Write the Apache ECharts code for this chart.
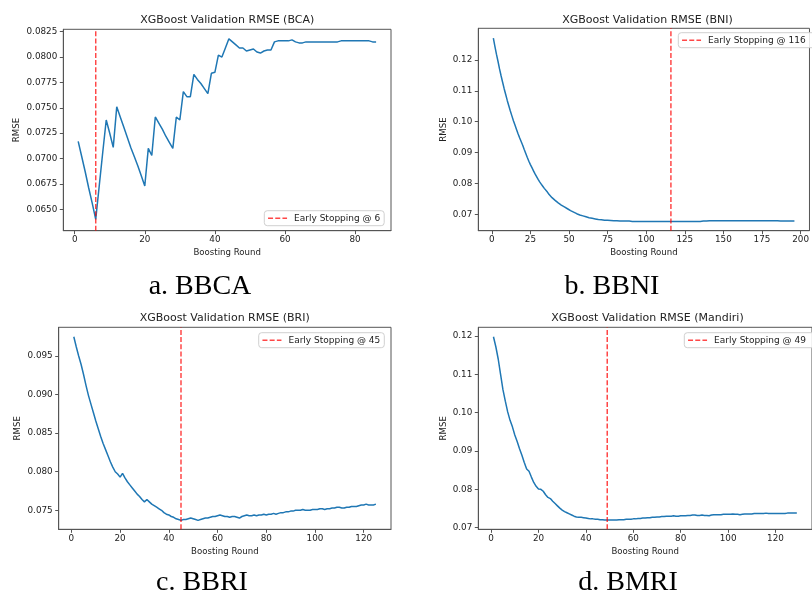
<!DOCTYPE html>
<html><head><meta charset="utf-8">
<script src="https://cdn.jsdelivr.net/npm/echarts@6.0.0/dist/echarts.min.js"></script>
<style>html,body{margin:0;padding:0;background:#fff}#c{width:812px;height:597px}</style>
</head><body><div id="c"></div>
<script>
// ---------------- DATA ----------------
const panelTitles = ['XGBoost Validation RMSE (BCA)', 'XGBoost Validation RMSE (BNI)', 'XGBoost Validation RMSE (BRI)', 'XGBoost Validation RMSE (Mandiri)'];
const captions = ['a. BBCA', 'b. BBNI', 'c. BBRI', 'd. BMRI'];
const stopRounds = [6, 116, 45, 49];
const xAxisTitle = 'Boosting Round';
const yAxisTitle = 'RMSE';

const bcaRmse = [
 0.0717,0.0702,0.0687,0.0671,0.0656,0.0640,0.0673,0.0706,0.0738,0.0725,
 0.0711,0.0751,0.0741,0.0731,0.0721,0.0711,0.0702,0.0693,0.0683,0.0673,
 0.0710,0.0703,0.0741,0.0735,0.0729,0.0722,0.0716,0.0710,0.0741,0.0738,
 0.0766,0.0761,0.0761,0.0783,0.0778,0.0774,0.0769,0.0764,0.0784,0.0785,
 0.0802,0.0800,0.0809,0.0818,0.0815,0.0812,0.0809,0.0809,0.0806,0.0807,
 0.0808,0.0805,0.0804,0.0806,0.0807,0.0807,0.0815,0.0816,0.0816,0.0816,
 0.0816,0.0817,0.0815,0.0814,0.0814,0.0815,0.0815,0.0815,0.0815,0.0815,
 0.0815,0.0815,0.0815,0.0815,0.0815,0.0816,0.0816,0.0816,0.0816,0.0816,
 0.0816,0.0816,0.0816,0.0816,0.0815,0.0815];

const bniRmse = [
 0.1271,0.1244,0.1219,0.1196,0.1171,0.1149,0.1128,0.1107,0.1088,0.1069,
 0.1052,0.1035,0.1019,0.1003,0.0989,0.0975,0.0961,0.0948,0.0936,0.0924,
 0.0910,0.0897,0.0884,0.0872,0.0861,0.0851,0.0841,0.0831,0.0822,0.0813,
 0.0805,0.0798,0.0791,0.0784,0.0778,0.0772,0.0765,0.0759,0.0754,0.0750,
 0.0745,0.0741,0.0737,0.0734,0.0730,0.0727,0.0724,0.0721,0.0718,0.0715,
 0.0712,0.0710,0.0707,0.0705,0.0702,0.0700,0.0698,0.0696,0.0695,0.0693,
 0.0692,0.0690,0.0689,0.0688,0.0687,0.0686,0.0685,0.0684,0.0683,0.0683,
 0.0682,0.0681,0.0681,0.0680,0.0681,0.0680,0.0680,0.0680,0.0679,0.0679,
 0.0679,0.0679,0.0678,0.0678,0.0678,0.0678,0.0678,0.0678,0.0678,0.0677,
 0.0677,0.0677,0.0677,0.0677,0.0677,0.0677,0.0677,0.0677,0.0677,0.0677,
 0.0677,0.0677,0.0677,0.0677,0.0677,0.0677,0.0677,0.0677,0.0677,0.0677,
 0.0677,0.0677,0.0677,0.0677,0.0677,0.0677,0.0677,0.0677,0.0677,0.0677,
 0.0677,0.0677,0.0677,0.0677,0.0677,0.0677,0.0677,0.0677,0.0677,0.0677,
 0.0677,0.0677,0.0677,0.0677,0.0677,0.0678,0.0678,0.0678,0.0678,0.0679,
 0.0679,0.0679,0.0679,0.0679,0.0679,0.0679,0.0679,0.0679,0.0679,0.0679,
 0.0679,0.0679,0.0679,0.0679,0.0679,0.0679,0.0679,0.0679,0.0679,0.0679,
 0.0679,0.0679,0.0679,0.0679,0.0679,0.0679,0.0679,0.0679,0.0679,0.0679,
 0.0679,0.0679,0.0679,0.0679,0.0679,0.0679,0.0679,0.0679,0.0679,0.0679,
 0.0679,0.0679,0.0679,0.0679,0.0679,0.0679,0.0678,0.0678,0.0678,0.0678,
 0.0678,0.0678,0.0678,0.0678,0.0678,0.0678];

const briRmse = [
 0.0975,0.0962,0.0950,0.0939,0.0926,0.0912,0.0899,0.0888,0.0877,0.0866,
 0.0856,0.0846,0.0837,0.0829,0.0821,0.0813,0.0806,0.0800,0.0797,0.0793,
 0.0798,0.0792,0.0787,0.0783,0.0779,0.0775,0.0771,0.0768,0.0764,0.0761,
 0.0764,0.0761,0.0758,0.0756,0.0754,0.0752,0.0750,0.0747,0.0745,0.0744,
 0.0742,0.0741,0.0739,0.0738,0.0737,0.0738,0.0738,0.0739,0.0740,0.0739,
 0.0738,0.0737,0.0738,0.0739,0.0740,0.0740,0.0741,0.0742,0.0742,0.0743,
 0.0744,0.0743,0.0742,0.0742,0.0741,0.0742,0.0742,0.0741,0.0740,0.0742,
 0.0743,0.0744,0.0743,0.0743,0.0744,0.0743,0.0744,0.0744,0.0745,0.0744,
 0.0745,0.0745,0.0746,0.0745,0.0746,0.0747,0.0747,0.0748,0.0748,0.0749,
 0.0749,0.0750,0.0750,0.0750,0.0751,0.0750,0.0750,0.0750,0.0751,0.0751,
 0.0751,0.0752,0.0752,0.0751,0.0752,0.0752,0.0753,0.0753,0.0754,0.0754,
 0.0753,0.0753,0.0754,0.0754,0.0755,0.0755,0.0755,0.0756,0.0757,0.0757,
 0.0758,0.0757,0.0757,0.0757,0.0758];

const mandiriRmse = [
 0.1198,0.1172,0.1140,0.1100,0.1060,0.1030,0.1002,0.0980,0.0963,0.0942,
 0.0925,0.0906,0.0889,0.0870,0.0853,0.0847,0.0832,0.0818,0.0808,0.0801,
 0.0800,0.0795,0.0786,0.0779,0.0776,0.0769,0.0763,0.0757,0.0751,0.0746,
 0.0742,0.0739,0.0736,0.0733,0.0730,0.0728,0.0727,0.0727,0.0726,0.0725,
 0.0724,0.0723,0.0723,0.0722,0.0722,0.0721,0.0721,0.0720,0.0720,0.0720,
 0.0720,0.0720,0.0720,0.0721,0.0721,0.0721,0.0722,0.0722,0.0722,0.0723,
 0.0723,0.0724,0.0724,0.0725,0.0725,0.0726,0.0726,0.0727,0.0727,0.0728,
 0.0728,0.0729,0.0729,0.0730,0.0730,0.0730,0.0731,0.0730,0.0730,0.0731,
 0.0731,0.0731,0.0732,0.0732,0.0733,0.0733,0.0732,0.0732,0.0733,0.0732,
 0.0732,0.0731,0.0733,0.0734,0.0734,0.0734,0.0734,0.0735,0.0735,0.0735,
 0.0735,0.0736,0.0735,0.0735,0.0734,0.0735,0.0736,0.0736,0.0736,0.0736,
 0.0737,0.0737,0.0737,0.0737,0.0737,0.0738,0.0737,0.0737,0.0737,0.0737,
 0.0737,0.0737,0.0737,0.0737,0.0738,0.0738,0.0738,0.0738,0.0738];

const xTicksA = [0, 20, 40, 60, 80];
const xTicksB = [0, 25, 50, 75, 100, 125, 150, 175, 200];
const xTicksC = [0, 20, 40, 60, 80, 100, 120];
const xTicksD = [0, 20, 40, 60, 80, 100, 120];
const yTicksA = ['0.0650', '0.0675', '0.0700', '0.0725', '0.0750', '0.0775', '0.0800', '0.0825'];
const yTicksB = ['0.07', '0.08', '0.09', '0.10', '0.11', '0.12'];
const yTicksC = ['0.075', '0.080', '0.085', '0.090', '0.095'];
const yTicksD = ['0.07', '0.08', '0.09', '0.10', '0.11', '0.12'];

// ---------------- LAYOUT ----------------
const FONT = 'DejaVu Sans';
const INK = '#222';
const SPINE = '#555';
const layout = [
  {grid: {left: 63.3, top: 29.3, width: 327.7, height: 201.4}, x: [-3.25, 90.25], y: [0.06289, 0.08274],
   title: [227.2, 20], caption: [200, 287], legend: {left: 264.3, top: 210.7, padR: 4}, yGap: 42, xGap: 18},
  {grid: {left: 478.3, top: 28.3, width: 335.2, height: 202.4}, x: [-8.75, 205.75], y: [0.06469, 0.13027],
   title: [647.5, 20], caption: [612, 287], legend: {left: 678.3, top: 32.7, padR: 10}, yGap: 30.5, xGap: 18},
  {grid: {left: 58.7, top: 327.3, width: 332.3, height: 202}, x: [-5.2, 131.2], y: [0.07254, 0.09872],
   title: [224.7, 318.3], caption: [202, 583], legend: {left: 258.7, top: 332.7, padR: 4}, yGap: 36, xGap: 18},
  {grid: {left: 478.3, top: 327.3, width: 336, height: 202}, x: [-5.4, 135.4], y: [0.06958, 0.12227],
   title: [647.5, 318.3], caption: [628, 583], legend: {left: 684.3, top: 332.7, padR: 10}, yGap: 30.5, xGap: 18}
];

const seriesValues = [bcaRmse, bniRmse, briRmse, mandiriRmse];
const xTicks = [xTicksA, xTicksB, xTicksC, xTicksD];
const yTicks = [yTicksA, yTicksB, yTicksC, yTicksD];

const option = {animation: false, backgroundColor: '#fff', grid: [], xAxis: [], yAxis: [], series: [], legend: [], graphic: []};

layout.forEach((L, i) => {
  option.grid.push(Object.assign({show: true, borderColor: SPINE, borderWidth: 1, containLabel: false}, L.grid));
  option.xAxis.push({
    type: 'value', gridIndex: i, min: L.x[0], max: L.x[1],
    axisLine: {show: true, onZero: false, lineStyle: {color: SPINE, width: 1}},
    axisTick: {show: true, customValues: xTicks[i], length: 3.5, lineStyle: {color: SPINE, width: 1}},
    axisLabel: {customValues: xTicks[i], fontSize: 8.8, fontFamily: FONT, color: INK, margin: 5},
    splitLine: {show: false},
    name: xAxisTitle, nameLocation: 'middle', nameGap: L.xGap,
    nameTextStyle: {fontSize: 8.6, fontFamily: FONT, color: INK}
  });
  const dec = yTicks[i][0].split('.')[1].length;
  option.yAxis.push({
    type: 'value', gridIndex: i, min: L.y[0], max: L.y[1],
    axisLine: {show: true, onZero: false, lineStyle: {color: SPINE, width: 1}},
    axisTick: {show: true, customValues: yTicks[i].map(Number), length: 3.5, lineStyle: {color: SPINE, width: 1}},
    axisLabel: {customValues: yTicks[i].map(Number), fontSize: 8.8, fontFamily: FONT, color: INK, margin: 6,
      formatter: v => v.toFixed(dec)},
    splitLine: {show: false},
    name: yAxisTitle, nameLocation: 'middle', nameGap: L.yGap,
    nameTextStyle: {fontSize: 8.6, fontFamily: FONT, color: INK}
  });
  option.series.push({
    type: 'line', name: 'rmse' + i, xAxisIndex: i, yAxisIndex: i, showSymbol: false, symbol: 'none',
    clip: true, data: seriesValues[i].map((v, k) => [k + 1, v]),
    lineStyle: {color: '#1f77b4', width: 1.5}, itemStyle: {color: '#1f77b4'}, z: 2
  });
  const stopName = 'Early Stopping @ ' + stopRounds[i];
  option.series.push({
    type: 'line', name: stopName, xAxisIndex: i, yAxisIndex: i, showSymbol: false, symbol: 'none',
    clip: true, data: [[stopRounds[i], L.y[0]], [stopRounds[i], L.y[1]]],
    lineStyle: {color: 'rgba(255,0,0,0.72)', width: 1.5, type: [5, 2.2]}, itemStyle: {color: 'rgba(255,0,0,0.72)'}, z: 3
  });
  option.legend.push({
    data: [stopName], left: L.legend.left, top: L.legend.top, orient: 'vertical',
    itemWidth: 19, itemHeight: 10, padding: [3, L.legend.padR, 3, 3], selectedMode: false,
    borderColor: '#d0d0d0', borderWidth: 1, borderRadius: 3, backgroundColor: 'rgba(255,255,255,0.85)',
    itemStyle: {color: 'rgba(0,0,0,0)', borderColor: 'rgba(0,0,0,0)', borderWidth: 0, opacity: 0},
    lineStyle: {color: 'rgba(255,0,0,0.72)', width: 1.5, type: [5, 2.2]},
    textStyle: {fontSize: 9, fontFamily: FONT, color: INK, padding: [0, 0, 0, 2]}
  });
  option.graphic.push({
    type: 'text', x: L.title[0], y: L.title[1], silent: true,
    style: {text: panelTitles[i], fill: INK, font: '11px "DejaVu Sans"', textAlign: 'center', textVerticalAlign: 'middle'}
  });
  option.graphic.push({
    type: 'text', x: L.caption[0], y: L.caption[1], silent: true,
    style: {text: captions[i], fill: '#000', font: '28px "Liberation Serif"', textAlign: 'center', textVerticalAlign: 'middle'}
  });
});

const chart = echarts.init(document.getElementById('c'), null, {renderer: 'canvas'});
chart.setOption(option);
</script>
</body></html>
